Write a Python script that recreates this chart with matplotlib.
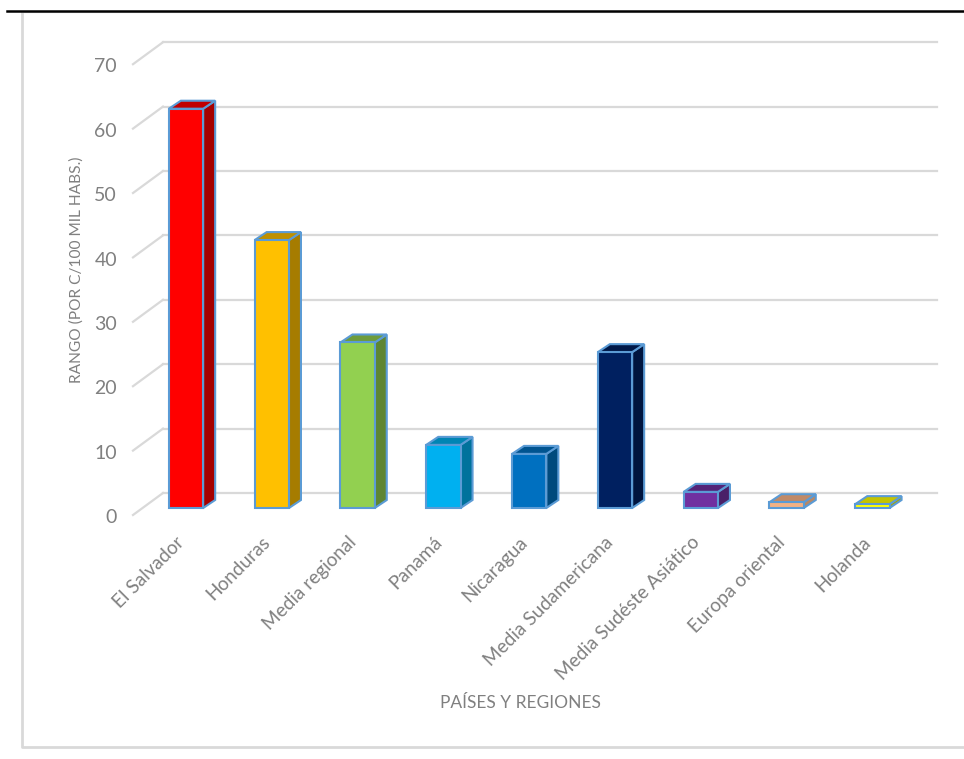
import matplotlib
matplotlib.use("Agg")
import matplotlib.pyplot as plt
from matplotlib.patches import Polygon, Rectangle
from matplotlib.lines import Line2D

plt.rcParams['font.family'] = ['Lato', 'DejaVu Sans']

categories = ["El Salvador", "Honduras", "Media regional", "Panamá", "Nicaragua",
              "Media Sudamericana", "Media Sudéste Asiático", "Europa oriental", "Holanda"]
values = [62.0, 41.6, 25.7, 9.8, 8.4, 24.2, 2.5, 0.9, 0.6]
front_colors = ["#FF0000", "#FFC000", "#92D050", "#00B0F0", "#0070C0",
                "#002060", "#7030A0", "#F4B183", "#FFFF00"]
side_colors = ["#A50000", "#A67C00", "#5E8532", "#00729C", "#004A7D",
               "#00153F", "#4A2068", "#B88866", "#A6A600"]
top_colors = ["#C00000", "#BF9000", "#6E9C3C", "#0085B4", "#005490",
              "#001848", "#542478", "#C08A68", "#C4C400"]
yticks = [0, 10, 20, 30, 40, 50, 60, 70]
xlabel = "PAÍSES Y REGIONES"
ylabel = "RANGO (POR C/100 MIL HABS.)"

W, H = 964, 759
fig = plt.figure(figsize=(W / 100, H / 100), dpi=100)

# axes box in pixels: x 100..950, y 30..600 (from top)
ax = fig.add_axes([100 / W, 1 - 600 / H, 850 / W, 570 / H])
ax.set_xlim((100 - 186) / 85.8, (950 - 186) / 85.8)
ax.set_ylim((508 - 600) / 6.44, (508 - 30) / 6.44)
ax.axis('off')

grid_c = "#D9D9D9"
text_c = "#808080"

# 3D offsets in data units
bar_dx, bar_dy = 12 / 85.8, 8 / 6.44
wall_dy = 15 / 6.44
front_dy = -7 / 6.44
x_front, x_back, x_end = (133 - 186) / 85.8, (163 - 186) / 85.8, (937 - 186) / 85.8

for g in yticks:
    ax.add_line(Line2D([x_back, x_end], [g + wall_dy, g + wall_dy], color=grid_c, lw=1.6, zorder=1))
    ax.add_line(Line2D([x_front, x_back], [g + front_dy, g + wall_dy], color=grid_c, lw=1.6, zorder=1))
    ax.text((117 - 186) / 85.8, g - 1.5, str(g), ha='right', va='center',
            fontsize=14, color=text_c)

hw = 0.2
edge = "#5B9BD5"
for i, (v, fc, sc, tc) in enumerate(zip(values, front_colors, side_colors, top_colors)):
    side = Polygon([(i + hw, 0), (i + hw + bar_dx, bar_dy), (i + hw + bar_dx, v + bar_dy), (i + hw, v)],
                   closed=True, facecolor=sc, edgecolor=edge, lw=1.5, zorder=3)
    top = Polygon([(i - hw, v), (i + hw, v), (i + hw + bar_dx, v + bar_dy), (i - hw + bar_dx, v + bar_dy)],
                  closed=True, facecolor=tc, edgecolor=edge, lw=1.5, zorder=3)
    front = Rectangle((i - hw, 0), 2 * hw, v, facecolor=fc, edgecolor=edge, lw=1.5, zorder=4)
    ax.add_patch(side)
    ax.add_patch(top)
    ax.add_patch(front)
    ax.text(i - 0.05, -4.9, categories[i], rotation=45, rotation_mode='anchor',
            ha='right', va='center', fontsize=13.7, color=text_c)

fig.text(520 / W, 1 - 703 / H, xlabel, ha='center', va='center', fontsize=12.5, color=text_c)
fig.text(77 / W, 1 - 270 / H, ylabel, ha='center', va='center', rotation=90, fontsize=11.2, color=text_c)

# chart border and top line
fig.add_artist(Line2D([22 / W, 22 / W, 1.01], [1 - 12 / H, 1 - 747 / H, 1 - 747 / H],
                      transform=fig.transFigure, color="#D9D9D9", lw=2))
fig.add_artist(Line2D([22 / W, 1.01], [1 - 12 / H, 1 - 12 / H],
                      transform=fig.transFigure, color="#E6E6E6", lw=1))
fig.add_artist(Line2D([7 / W, 1.0], [1 - 10.5 / H, 1 - 10.5 / H],
                      transform=fig.transFigure, color="black", lw=1.8))

fig.savefig("out.png", dpi=100)
